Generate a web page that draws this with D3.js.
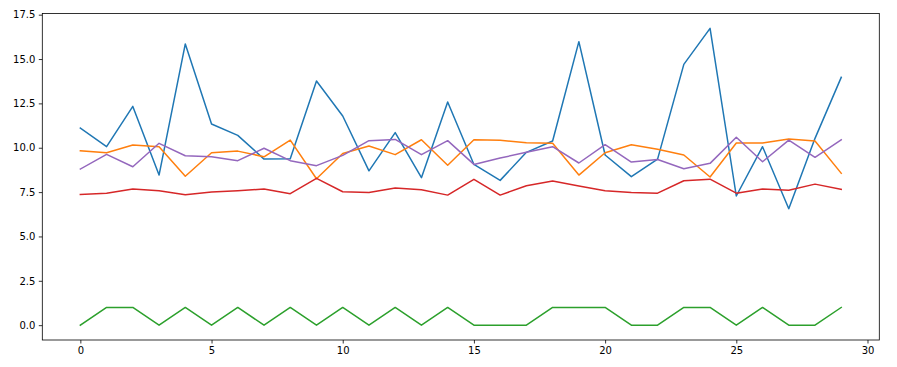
<!DOCTYPE html>
<html><head><meta charset="utf-8">
<script src="https://cdn.jsdelivr.net/npm/d3@7"></script>
<style>body{margin:0;background:#fff}svg{display:block}</style>
</head><body>
<script>
const xs = d3.range(30);
const blue   = [11.11,10.06,12.33,8.46,15.85,11.34,10.70,9.36,9.38,13.76,11.79,8.70,10.85,8.31,12.58,9.06,8.16,9.74,10.38,15.98,9.59,8.37,9.36,14.70,16.73,7.28,10.06,6.56,10.53,13.97];
const orange = [9.83,9.72,10.15,10.06,8.39,9.72,9.81,9.49,10.43,8.25,9.68,10.10,9.61,10.45,9.01,10.45,10.42,10.28,10.25,8.46,9.72,10.17,9.91,9.59,8.35,10.27,10.27,10.49,10.38,8.56];
const green  = [0,1,1,0,1,0,1,0,1,0,1,0,1,0,1,0,0,0,1,1,1,0,0,1,1,0,1,0,0,1];
const red    = [7.37,7.44,7.67,7.58,7.35,7.50,7.58,7.67,7.41,8.27,7.52,7.48,7.73,7.63,7.33,8.22,7.33,7.86,8.12,7.84,7.58,7.48,7.44,8.14,8.23,7.44,7.67,7.60,7.95,7.65];
const purple = [8.80,9.63,8.93,10.25,9.55,9.49,9.27,9.97,9.27,8.99,9.57,10.40,10.47,9.61,10.40,9.06,9.42,9.74,10.06,9.14,10.17,9.19,9.34,8.82,9.12,10.59,9.21,10.43,9.46,10.45];
const xTicks = [0,5,10,15,20,25,30];
const yTicks = [0,2.5,5,7.5,10,12.5,15,17.5];
const seriesList = [
  {name:"C0", values: blue,   color:"#1f77b4"},
  {name:"C1", values: orange, color:"#ff7f0e"},
  {name:"C2", values: green,  color:"#2ca02c"},
  {name:"C3", values: red,    color:"#d62728"},
  {name:"C4", values: purple, color:"#9467bd"}
];

const W = 897, H = 367;
const L = 42.3, R = 879.3, T = 13.5, B = 340;
const svg = d3.select("body").append("svg").attr("width", W).attr("height", H);

const allVals = seriesList.flatMap(s => s.values);
const ymin = d3.min(allVals), ymax = d3.max(allVals);
const ypad = (ymax - ymin) * 0.05;
const x = d3.scaleLinear().domain([-1.45, 30.45]).range([L, R]);
const y = d3.scaleLinear().domain([ymin - ypad, ymax + ypad]).range([B, T]);

const line = d3.line().x((d,i) => x(xs[i])).y(d => y(d));
const g = svg.append("g");
seriesList.forEach(s => {
  g.append("path").datum(s.values).attr("d", line)
   .attr("fill","none").attr("stroke", s.color).attr("stroke-width",1.5)
   .attr("stroke-linejoin","round").attr("stroke-linecap","square");
});

const font = "DejaVu Sans, sans-serif";
const xAxis = svg.append("g").attr("transform",`translate(0,${B})`)
  .call(d3.axisBottom(x).tickValues(xTicks).tickSize(3.5).tickPadding(3.5).tickFormat(d3.format("d")));
const yAxis = svg.append("g").attr("transform",`translate(${L},0)`)
  .call(d3.axisLeft(y).tickValues(yTicks).tickSize(3.5).tickPadding(3.5).tickFormat(d3.format(".1f")));
[xAxis, yAxis].forEach(a => {
  a.select(".domain").remove();
  a.selectAll(".tick line").attr("stroke","#000").attr("stroke-width",0.8);
  a.selectAll(".tick text").attr("font-family",font).attr("font-size",10).attr("fill","#000");
});

svg.append("rect").attr("x",L).attr("y",T).attr("width",R-L).attr("height",B-T)
  .attr("fill","none").attr("stroke","#000").attr("stroke-width",0.8);
</script>
</body></html>
